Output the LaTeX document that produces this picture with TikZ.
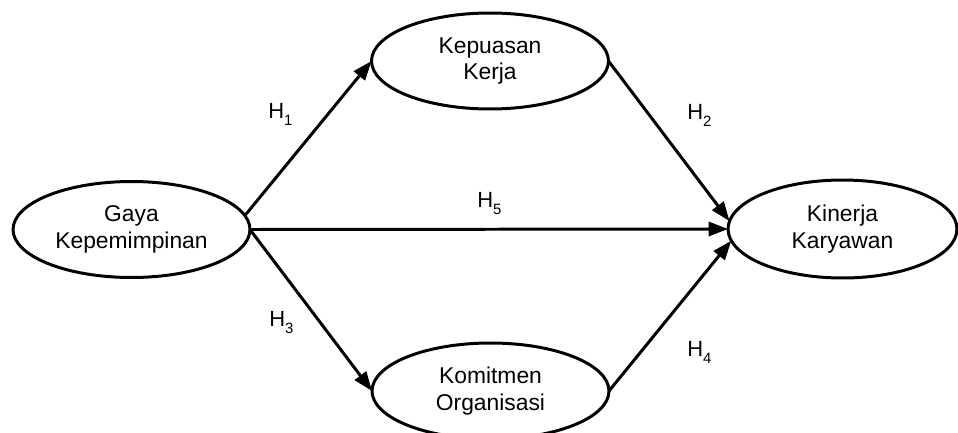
\documentclass[tikz,border=0pt]{standalone}
\usepackage{fontspec}
\setmainfont{Liberation Sans}
\usetikzlibrary{shapes.geometric,arrows.meta}
% subscript of a hypothesis label
\newcommand{\hypsub}[1]{H\raisebox{-4.3pt}{\fontsize{8.5}{9}\selectfont #1}}
\begin{document}
\begin{tikzpicture}[x=0.02cm,y=-0.02cm,
  construct/.style={ellipse,draw,line width=1.7pt,minimum width=4.74cm,
    minimum height=1.92cm,inner sep=0pt,outer sep=0pt,align=center,
    font=\fontsize{13}{15.2}\selectfont},
  patharrow/.style={line width=1.7pt,-{Triangle[length=11pt,width=8pt]}},
  hyp/.style={anchor=base west,inner sep=0pt,font=\fontsize{12.5}{14}\selectfont}]
\useasboundingbox (0,0) rectangle (958,433);
\clip (0,0) rectangle (958,433);

% constructs
\node[construct] (gaya) at (131.5,229.5) {Gaya\\Kepemimpinan};
\node[construct] (kep)  at (490,61) {Kepuasan\\Kerja};
\node[construct] (kom)  at (490.5,391) {Komitmen\\Organisasi};
\node[construct,minimum width=4.58cm,minimum height=1.96cm] (kin) at (842.5,229) {Kinerja\\Karyawan};

% hypothesised paths
\draw[patharrow] (gaya.7) -- (kep.west);
\draw[patharrow] (gaya.east) -- (kin.west);
\draw[patharrow] (gaya.east) -- (kom.west);
\draw[patharrow] (kep.east) -- (kin.176);
\draw[patharrow] (kom.east) -- (kin.186);

% hypothesis labels
\node[hyp] (h1) at (268,118) {\hypsub{1}};
\node[hyp] (h2) at (687,119) {\hypsub{2}};
\node[hyp] (h5) at (477,207) {\hypsub{5}};
\node[hyp] (h3) at (269,326) {\hypsub{3}};
\node[hyp] (h4) at (687,356) {\hypsub{4}};
\end{tikzpicture}
\end{document}
